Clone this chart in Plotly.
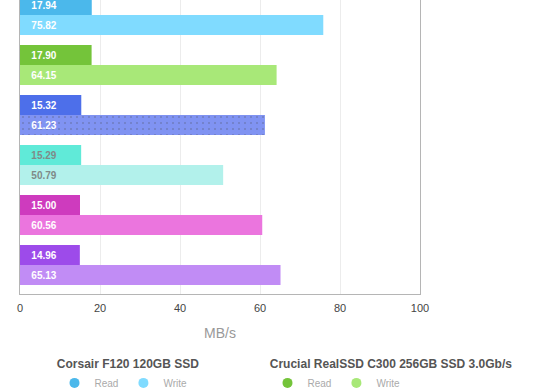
import plotly.graph_objects as go

# ---- data ----
drives = [
    "Corsair F120 120GB SSD",
    "Crucial RealSSD C300 256GB SSD 3.0Gb/s",
    "SSD 3",
    "SSD 4",
    "SSD 5",
    "SSD 6",
]
read_mbs = [17.94, 17.90, 15.32, 15.29, 15.00, 14.96]
write_mbs = [75.82, 64.15, 61.23, 50.79, 60.56, 65.13]
series_names = ["Read", "Write"]
x_ticks = [0, 20, 40, 60, 80, 100]
x_title = "MB/s"

# ---- styles ----
read_colors = ["#4bb8eb", "#74c43a", "#4d6fea", "#60ead8", "#ce3bbe", "#9d4bea"]
write_colors = ["#80dbff", "#a8e878", "#8093f2", "#b2f1eb", "#eb75de", "#c18cf5"]
write_patterns = ["", "", ".", "", "", ""]
label_colors = ["#ffffff", "#ffffff", "#ffffff", "#7f8a88", "#ffffff", "#ffffff"]
FONT = "Liberation Sans, Arial, Helvetica, sans-serif"
PAD = "\u00a0\u00a0\u00a0"

fig = go.Figure()
for name, vals, cols, pats in [("Read", read_mbs, read_colors, [""] * 6),
                               ("Write", write_mbs, write_colors, write_patterns)]:
    fig.add_trace(go.Bar(
        name=name,
        y=drives,
        x=vals,
        orientation="h",
        marker=dict(color=cols, line=dict(width=0),
                    pattern=dict(shape=pats, fgcolor="#7b8ef1", size=6, solidity=0.06)),
        text=[PAD + f"{v:.2f}" for v in vals],
        textposition="inside",
        insidetextanchor="start",
        textangle=0,
        textfont=dict(family=FONT, size=10, color=label_colors, weight="bold"),
        showlegend=False,
        hoverinfo="skip",
    ))

# legend entries (circle markers) for the drives whose legends are visible
for i, leg in enumerate(["legend", "legend2"]):
    for sname, cols in zip(series_names, [read_colors, write_colors]):
        fig.add_trace(go.Scatter(
            x=[None], y=[None], mode="markers", name=sname,
            marker=dict(symbol="circle", size=10, color=cols[i]),
            legend=leg, showlegend=True, hoverinfo="skip",
        ))

leg_common = dict(
    orientation="h", xanchor="center", yanchor="top", y=-0.2,
    font=dict(family=FONT, size=10, color="#aaaaaa"),
    bgcolor="rgba(0,0,0,0)", itemclick=False, itemdoubleclick=False,
)
title_font = dict(family=FONT, size=12, color="#555555", weight="bold")
fig.update_layout(
    width=560, height=390,
    margin=dict(l=20, r=140, t=0, b=96, autoexpand=False),
    paper_bgcolor="white", plot_bgcolor="white",
    barmode="group", bargap=0.2, bargroupgap=0,
    font=dict(family=FONT),
    legend=dict(x=0.27, title=dict(text=drives[0], side="top center", font=title_font), **leg_common),
    legend2=dict(x=0.9275, title=dict(text=drives[1], side="top center", font=title_font), **leg_common),
    xaxis=dict(
        range=[x_ticks[0], x_ticks[-1]], tickvals=x_ticks, showgrid=True,
        gridcolor="#ececec", gridwidth=1, zeroline=False,
        showline=True, linecolor="#b5b5b5", linewidth=1, ticks="",
        ticklabelstandoff=4,
        tickfont=dict(family=FONT, size=11, color="#444444"),
        title=dict(text=x_title, font=dict(family=FONT, size=14, color="#999999"), standoff=14),
    ),
    yaxis=dict(
        type="category", categoryorder="array", categoryarray=drives,
        range=[5.58, -0.3], showticklabels=False, showgrid=False, zeroline=False,
        showline=True, mirror=True, linecolor="#b5b5b5", linewidth=1, ticks="",
    ),
)

fig.write_html("out.html", config={"displayModeBar": False},
               post_script="document.body.style.margin='0';")
